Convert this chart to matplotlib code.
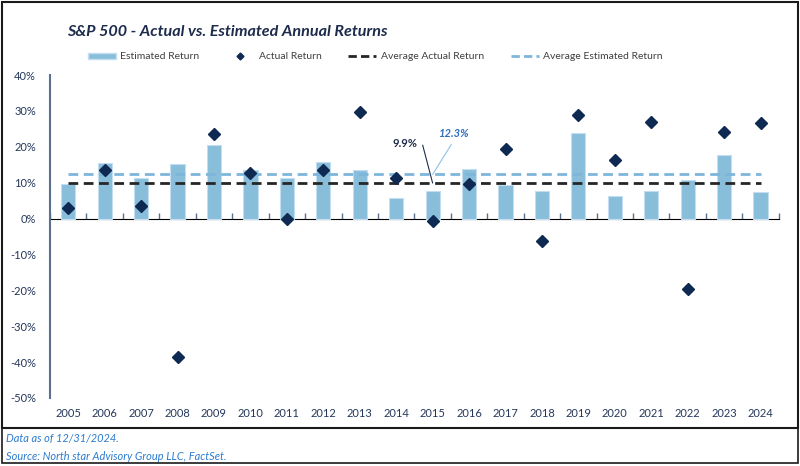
import numpy as np
import matplotlib
matplotlib.use("Agg")
import matplotlib.pyplot as plt
from matplotlib.patches import Rectangle
from matplotlib.lines import Line2D

plt.rcParams['font.family'] = ['Lato', 'DejaVu Sans']

# data
years = [str(y) for y in range(2005, 2025)]
estimated = [9.6, 15.4, 11.2, 15.1, 20.6, 13.5, 11.2, 15.7, 13.4, 5.8,
             7.7, 13.8, 9.4, 7.7, 23.8, 6.4, 7.7, 10.7, 17.6, 7.4]
actual = [3.0, 13.6, 3.5, -38.5, 23.5, 12.8, 0.0, 13.4, 29.6, 11.4,
          -0.7, 9.5, 19.4, -6.2, 28.9, 16.3, 26.9, -19.6, 24.2, 26.6]
avg_actual = 9.9
avg_estimated = 12.3
yticks = [40, 30, 20, 10, 0, -10, -20, -30, -40, -50]

navy = "#0f2a52"
bar_col = "#89bedb"
axis_col = "#5b6f8e"
label_col = "#24365a"

fig = plt.figure(figsize=(8, 4.66), dpi=100)
ax = fig.add_axes([0.0625, 0.146, 0.911, 0.693])

x = np.arange(len(years))
ax.bar(x, estimated, width=0.39, color=bar_col, edgecolor="#c2def0", linewidth=0.8, zorder=2)
ax.plot(x, actual, linestyle="none", marker="D", markersize=6.5, color=navy, zorder=4)
ax.plot([x[0], x[-1]], [avg_estimated, avg_estimated], color="#7db6da", lw=2,
        dashes=(3.5, 2), zorder=3)
ax.plot([x[0], x[-1]], [avg_actual, avg_actual], color="#262626", lw=2,
        dashes=(3.5, 2), zorder=3)

ax.set_xlim(-0.5, len(years) - 0.5)
ax.set_ylim(-50, 40)
ax.set_yticks(yticks)
ax.set_yticklabels([f"{v}%" for v in yticks])
ax.set_xticks(x)
ax.set_xticklabels(years)
ax.tick_params(axis="both", length=0, labelsize=8, labelcolor=label_col)
ax.tick_params(axis="y", pad=10)
ax.tick_params(axis="x", pad=7)

for s in ["top", "right", "bottom"]:
    ax.spines[s].set_visible(False)
ax.spines["left"].set_color(axis_col)
ax.spines["left"].set_linewidth(1.5)

# axis line at zero with boundary ticks
sec = ax.secondary_xaxis(50 / 90)
sec.set_xticks(np.arange(-0.5, len(years), 1.0))
sec.set_xticklabels([])
sec.tick_params(length=4, width=1, color=axis_col, direction="out")
sec.spines["bottom"].set_color(axis_col)
sec.spines["bottom"].set_linewidth(1.2)

# value labels for the averages
ax.annotate("9.9%", xy=(10, avg_actual), xytext=(9.24, 20.8), ha="center", va="center",
            fontsize=8, fontweight="bold", color="#1f2d4f",
            arrowprops=dict(arrowstyle="-", color="#1f2d4f", lw=0.8, relpos=(1, 0.5),
                            shrinkA=2, shrinkB=0,
                            connectionstyle="arc,angleA=0,armA=5,angleB=100,armB=0,rad=0"))
ax.annotate("12.3%", xy=(10, avg_estimated), xytext=(10.6, 23.6), ha="center", va="center",
            fontsize=8, fontweight="bold", fontstyle="italic", color="#2f6fc0",
            arrowprops=dict(arrowstyle="-", color="#8ec3e6", lw=0.8, relpos=(0.5, 0),
                            shrinkA=2, shrinkB=0))

fig.text(0.284, 0.931, "S&P 500 - Actual vs. Estimated Annual Returns", ha="center", va="center",
         fontsize=11.6, fontweight="bold", fontstyle="italic", color="#1d2b4c")

handles = [
    Rectangle((0, 0), 1, 1, facecolor=bar_col, edgecolor="#c2def0"),
    Line2D([], [], linestyle="none", marker="D", markersize=3.5, color=navy),
    Line2D([], [], color="#262626", lw=2, dashes=(3, 1.5)),
    Line2D([], [], color="#7db6da", lw=2, dashes=(3, 1.5)),
]
labels = ["Estimated Return", "Actual Return", "Average Actual Return", "Average Estimated Return"]
leg = fig.legend(handles, labels, loc="center", bbox_to_anchor=(0.469, 0.878), ncol=4,
                 frameon=False, fontsize=7.5, handlelength=2.7, handleheight=0.5,
                 columnspacing=2.6, handletextpad=0.4)
for t in leg.get_texts():
    t.set_color("#404040")

# frames around the chart and the notes
fig.patches.append(Rectangle((0.003, 0.082), 0.994, 0.914, transform=fig.transFigure,
                             fill=False, edgecolor="#1a1a1a", lw=1.5))
fig.patches.append(Rectangle((0.003, 0.006), 0.994, 0.076, transform=fig.transFigure,
                             fill=False, edgecolor="#1a1a1a", lw=1.2))

note_col = "#2a7bd0"
fig.text(0.007, 0.06, "Data as of 12/31/2024.", fontsize=7.9, fontstyle="italic",
         color=note_col, va="center")
fig.text(0.007, 0.021, "Source: North star Advisory Group LLC, FactSet.", fontsize=7.9,
         fontstyle="italic", color=note_col, va="center")

fig.savefig("out.png", dpi=100)
